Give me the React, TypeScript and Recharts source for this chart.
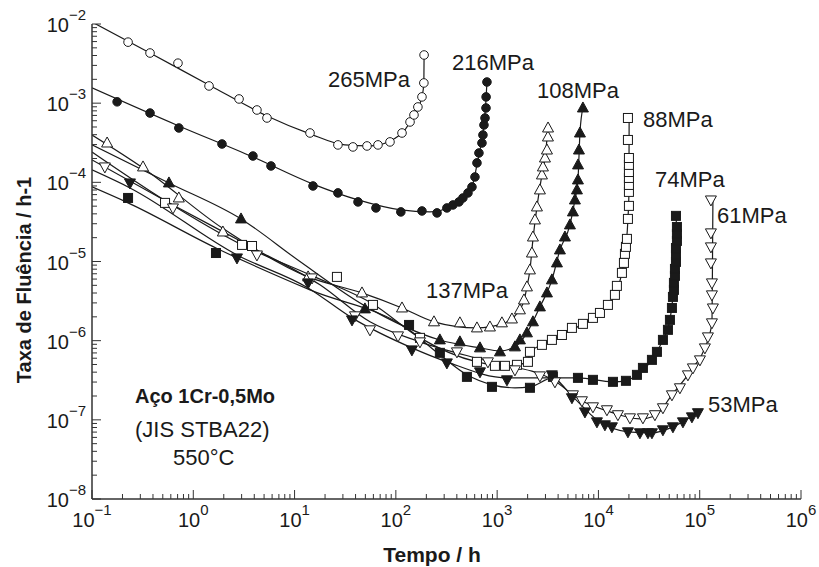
import React from "react";
import { ComposedChart, Line, Scatter, XAxis, YAxis } from "recharts";

const FONT = "'Liberation Sans', Arial, Helvetica, sans-serif";
const INK = "#1a1a1a";
const AXIS = "#333333";

// axis decades and their exponent labels
const xMajor = [0.1, 1, 10, 100, 1e3, 1e4, 1e5, 1e6];
const xExpLabels = ["\u22121", "0", "1", "2", "3", "4", "5", "6"];
const yMajor = [1e-8, 1e-7, 1e-6, 1e-5, 1e-4, 1e-3, 1e-2];
const yExpLabels = ["\u22128", "\u22127", "\u22126", "\u22125", "\u22124", "\u22123", "\u22122"];
const minorSteps = [2, 3, 4, 5, 6, 7, 8, 9];

// 265 MPa - open circles
const t265 = [0.227, 0.374, 0.706, 1.43, 2.83, 4.25, 5.34, 14.2, 26.8, 37.7, 51.9, 66.6, 87.5, 115, 138, 151, 165, 181, 189, 190];
const r265 = [5.9e-3, 4.3e-3, 3.2e-3, 1.65e-3, 1.13e-3, 8.2e-4, 6.5e-4, 4.2e-4, 2.97e-4, 2.8e-4, 2.88e-4, 2.97e-4, 3.24e-4, 4.2e-4, 5.79e-4, 7.1e-4, 8.95e-4, 1.2e-3, 1.8e-3, 4.06e-3];
const fitT265 = [0.1, 0.374, 1.43, 5.34, 14.2, 31.4, 55.5, 87.5, 123, 155, 181, 189, 190];
const fitR265 = [1.06e-2, 4.3e-3, 1.7e-3, 6.9e-4, 4.1e-4, 2.97e-4, 2.88e-4, 3.33e-4, 4.6e-4, 7.5e-4, 1.2e-3, 1.8e-3, 4.06e-3];

// 216 MPa - filled circles
const t216 = [0.177, 0.374, 0.72, 1.92, 3.88, 5.85, 15.2, 26.8, 42.3, 63.6, 112, 181, 255, 319, 366, 420, 459, 515, 564, 604, 632, 661, 708, 724, 741, 759, 776, 778, 793];
const r216 = [1.04e-3, 7.5e-4, 4.86e-4, 3.05e-4, 2.15e-4, 1.61e-4, 9.0e-5, 7.35e-5, 5.66e-5, 4.75e-5, 4.23e-5, 4.35e-5, 4.11e-5, 4.75e-5, 5.18e-5, 5.66e-5, 6.35e-5, 7.35e-5, 8.75e-5, 1.17e-4, 1.76e-4, 2.35e-4, 3.14e-4, 3.97e-4, 5.3e-4, 6.5e-4, 8.7e-4, 1.2e-3, 1.85e-3];
const fitT216 = [0.1, 0.72, 3.88, 15.2, 42.3, 112, 217, 366, 481, 564, 632, 692, 741, 776, 793];
const fitR216 = [1.56e-3, 5.15e-4, 2.09e-4, 9.5e-5, 6.0e-5, 4.48e-5, 4.23e-5, 5.18e-5, 6.73e-5, 8.75e-5, 1.66e-4, 2.96e-4, 5.3e-4, 1.1e-3, 1.85e-3];

// 137 MPa - open triangles
const t137 = [0.141, 0.319, 0.72, 1.96, 13.6, 46.3, 115, 238, 429, 632, 849, 1115, 1400, 1679, 1840, 1969, 2108, 2205, 2257, 2362, 2472, 2645, 2769, 2832, 2966, 3103, 3174, 3180];
const r137 = [3.14e-4, 1.565e-4, 6.35e-5, 2.36e-5, 6.39e-6, 4.01e-6, 2.59e-6, 1.73e-6, 1.68e-6, 1.45e-6, 1.49e-6, 1.68e-6, 1.88e-6, 2.45e-6, 3.27e-6, 4.78e-6, 7.83e-6, 1.28e-5, 2.04e-5, 3.35e-5, 4.89e-5, 8.02e-5, 1.24e-4, 1.565e-4, 2.03e-4, 2.56e-4, 3.74e-4, 4.86e-4];
const fitT137 = [0.1, 0.319, 1.92, 13.6, 46.3, 115, 238, 632, 1115, 1499, 1840, 1969, 2108, 2257, 2472, 2769, 2966, 3180];
const fitR137 = [3.97e-4, 1.52e-4, 2.66e-5, 6.39e-6, 4.01e-6, 2.59e-6, 1.73e-6, 1.45e-6, 1.63e-6, 2.06e-6, 3.2e-6, 4.78e-6, 7.83e-6, 1.9e-5, 4.89e-5, 1.24e-4, 2.03e-4, 4.86e-4];

// 108 MPa - filled triangles
const t108 = [0.575, 2.96, 49.5, 272, 429, 677, 1066, 1499, 1679, 1969, 2257, 2645, 3103, 3474, 3896, 4168, 4671, 5233, 5601, 5861, 6137, 6278, 6290, 6423, 6570, 7031];
const r108 = [9.83e-5, 3.45e-5, 2.52e-6, 1.023e-6, 9.66e-7, 8.11e-7, 7.22e-7, 8.35e-7, 1.023e-6, 1.255e-6, 1.73e-6, 2.67e-6, 4.01e-6, 5.86e-6, 9.6e-6, 1.4e-5, 2.04e-5, 2.9e-5, 4.23e-5, 5.99e-5, 8.02e-5, 1.072e-4, 1.66e-4, 2.56e-4, 4.2e-4, 8.7e-4];
const fitT108 = [0.1, 0.575, 2.96, 11.3, 49.5, 272, 677, 1066, 1499, 1969, 2645, 3474, 4168, 5233, 5861, 6278, 6570, 7031];
const fitR108 = [2.97e-4, 9.83e-5, 3.45e-5, 1.0e-5, 2.75e-6, 1.02e-6, 8.11e-7, 7.43e-7, 8.35e-7, 1.255e-6, 2.67e-6, 5.86e-6, 1.4e-5, 2.9e-5, 5.99e-5, 1.07e-4, 4.2e-4, 8.7e-4];

// 88 MPa - open squares
const t88 = [0.526, 3.03, 3.8, 26.2, 59.4, 173, 632, 951, 1194, 1569, 2014, 2108, 2769, 3474, 4363, 5475, 7031, 8827, 10350, 12410, 14550, 15220, 17060, 17860, 18270, 18690, 19120, 19560, 20010, 20010, 20010, 20010, 20010, 20010, 20010, 19560, 19560];
const r88 = [5.5e-5, 1.62e-5, 1.57e-5, 6.39e-6, 2.83e-6, 1.085e-6, 5.4e-7, 4.81e-7, 4.81e-7, 4.95e-7, 5.4e-7, 7.22e-7, 8.85e-7, 1.023e-6, 1.18e-6, 1.45e-6, 1.63e-6, 1.94e-6, 2.24e-6, 2.83e-6, 3.79e-6, 4.92e-6, 7.18e-6, 9.6e-6, 1.25e-5, 1.53e-5, 1.93e-5, 3.45e-5, 5.04e-5, 7.57e-5, 9.27e-5, 1.136e-4, 1.35e-4, 1.66e-4, 2.03e-4, 3.43e-4, 6.5e-4];
const fitT88 = [0.1, 0.526, 3.03, 14.2, 59.4, 173, 632, 1194, 1569, 2014, 2108, 2769, 4363, 7031, 10350, 14550, 17060, 18690, 19560, 20010, 20050, 20100];
const fitR88 = [2.42e-4, 5.9e-5, 1.62e-5, 6.77e-6, 2.91e-6, 1.085e-6, 5.4e-7, 4.81e-7, 4.95e-7, 5.4e-7, 7.22e-7, 8.85e-7, 1.18e-6, 1.63e-6, 2.24e-6, 3.79e-6, 7.18e-6, 1.53e-5, 3.45e-5, 7.57e-5, 2.03e-4, 6.5e-4];

// 74 MPa - filled squares
const t74 = [0.227, 1.675, 135, 272, 503, 889, 2108, 3554, 6278, 8827, 13910, 18690, 24000, 27500, 33750, 37810, 43330, 48560, 50810, 53180, 54400, 55650, 55650, 56940, 56940, 58270, 58270, 58270, 59580, 59580, 59580, 58270];
const r74 = [6.35e-5, 1.28e-5, 1.58e-6, 7.02e-7, 3.49e-7, 2.61e-7, 2.54e-7, 3.49e-7, 3.39e-7, 3.2e-7, 3.02e-7, 3.11e-7, 3.7e-7, 4.53e-7, 5.72e-7, 7.22e-7, 1.023e-6, 1.37e-6, 1.83e-6, 2.59e-6, 3.57e-6, 4.38e-6, 5.37e-6, 6.58e-6, 8.06e-6, 9.88e-6, 1.21e-5, 1.48e-5, 1.82e-5, 2.23e-5, 2.73e-5, 3.77e-5];
const fitT74 = [0.1, 0.227, 1.675, 14.2, 135, 272, 503, 889, 1499, 2108, 3554, 6278, 13910, 18690, 24000, 33750, 43330, 50810, 54400, 56940, 58270, 58800];
const fitR74 = [8.75e-5, 5.5e-5, 1.48e-5, 4.38e-6, 1.37e-6, 6.62e-7, 3.7e-7, 2.77e-7, 2.54e-7, 2.61e-7, 3.39e-7, 3.39e-7, 3.02e-7, 3.11e-7, 3.7e-7, 5.72e-7, 1.023e-6, 1.83e-6, 3.57e-6, 8.06e-6, 1.48e-5, 3.77e-5];

// 61 MPa - open inverted triangles
const t61 = [0.134, 0.63, 4.25, 14.9, 39.5, 55.5, 105, 173, 401, 811, 1499, 2645, 3721, 5601, 6874, 8827, 12130, 15580, 20480, 27500, 36130, 43330, 53180, 63760, 76480, 85680, 100500, 112500, 120500, 132000, 135000, 132000, 132000, 129000, 129000, 129000, 129000];
const r61 = [1.565e-4, 4.75e-5, 1.21e-5, 6.21e-6, 2.06e-6, 1.37e-6, 1.15e-6, 9.66e-7, 7.22e-7, 5.4e-7, 4.28e-7, 3.59e-7, 3.02e-7, 2.07e-7, 1.74e-7, 1.46e-7, 1.34e-7, 1.16e-7, 1.06e-7, 1.06e-7, 1.16e-7, 1.42e-7, 2.07e-7, 2.54e-7, 3.7e-7, 4.53e-7, 5.72e-7, 8.11e-7, 1.117e-6, 1.68e-6, 2.59e-6, 3.79e-6, 5.37e-6, 9.6e-6, 1.53e-5, 2.3e-5, 5.99e-5];
const fitT61 = [0.1, 0.63, 4.25, 17.8, 55.5, 173, 849, 3554, 6570, 12990, 25690, 36130, 53180, 85680, 112500, 132000, 133000, 134000, 135000];
const fitR61 = [1.92e-4, 5.18e-5, 1.4e-5, 5.07e-6, 1.73e-6, 9.66e-7, 5.4e-7, 3.2e-7, 1.79e-7, 1.26e-7, 1.03e-7, 1.12e-7, 2.07e-7, 4.53e-7, 8.11e-7, 1.68e-6, 3.8e-6, 1.5e-5, 5.99e-5];

// 53 MPa - filled inverted triangles
const t53 = [0.237, 2.7, 13.6, 36.9, 144, 319, 677, 1250, 3474, 5475, 7361, 9666, 11590, 13590, 19560, 25690, 30820, 33750, 43330, 54400, 68300, 83750, 96000];
const r53 = [9.83e-5, 1.11e-5, 5.37e-6, 1.83e-6, 7.65e-7, 5.24e-7, 4.04e-7, 3.2e-7, 3.7e-7, 1.9e-7, 1.26e-7, 9.43e-8, 8.65e-8, 8.16e-8, 7.06e-8, 6.86e-8, 6.86e-8, 6.86e-8, 7.48e-8, 8.16e-8, 9.43e-8, 1.09e-7, 1.23e-7];
const fitT53 = [0.1, 0.237, 2.7, 13.6, 36.9, 144, 319, 1250, 3474, 5475, 9666, 19560, 33750, 54400, 96000];
const fitR53 = [1.435e-4, 8.5e-5, 1.21e-5, 4.64e-6, 1.94e-6, 8.11e-7, 5.4e-7, 3.39e-7, 3.39e-7, 2.01e-7, 1.0e-7, 7.06e-8, 6.86e-8, 8.16e-8, 1.26e-7];

type Kind = "circle" | "up" | "down" | "square";

const toPoints = (ts: number[], rs: number[]) => ts.map((t, i) => ({ t, r: rs[i] }));

const series: { id: string; t: number[]; r: number[]; ft: number[]; fr: number[]; kind: Kind; filled: boolean }[] = [
  { id: "s265", t: t265, r: r265, ft: fitT265, fr: fitR265, kind: "circle", filled: false },
  { id: "s216", t: t216, r: r216, ft: fitT216, fr: fitR216, kind: "circle", filled: true },
  { id: "s137", t: t137, r: r137, ft: fitT137, fr: fitR137, kind: "up", filled: false },
  { id: "s108", t: t108, r: r108, ft: fitT108, fr: fitR108, kind: "up", filled: true },
  { id: "s88", t: t88, r: r88, ft: fitT88, fr: fitR88, kind: "square", filled: false },
  { id: "s74", t: t74, r: r74, ft: fitT74, fr: fitR74, kind: "square", filled: true },
  { id: "s61", t: t61, r: r61, ft: fitT61, fr: fitR61, kind: "down", filled: false },
  { id: "s53", t: t53, r: r53, ft: fitT53, fr: fitR53, kind: "down", filled: true },
];

function withMinors(major: number[]) {
  const out: number[] = [];
  major.forEach((d, i) => {
    out.push(d);
    if (i < major.length - 1) minorSteps.forEach((m) => out.push(d * m));
  });
  return out;
}
const xTicks = withMinors(xMajor);
const yTicks = withMinors(yMajor);

const MAJOR_LEN = 9;
const MINOR_LEN = 5;

function BottomTick({ x, y, payload }: any) {
  const i = xMajor.indexOf(payload.value);
  const len = i >= 0 ? MAJOR_LEN : MINOR_LEN;
  return (
    <g>
      <line x1={x} y1={y} x2={x} y2={y - len} stroke={AXIS} strokeWidth={1} />
      {i >= 0 && (
        <text x={x} y={y + 28} textAnchor="middle" fontFamily={FONT} fontSize={20} fill={INK}>
          10<tspan dy={-12} fontSize={15}>{xExpLabels[i]}</tspan>
        </text>
      )}
    </g>
  );
}

function TopTick({ x, y, payload }: any) {
  const len = xMajor.indexOf(payload.value) >= 0 ? MAJOR_LEN : MINOR_LEN;
  return <line x1={x} y1={y} x2={x} y2={y + len} stroke={AXIS} strokeWidth={1} />;
}

function LeftTick({ x, y, payload }: any) {
  const i = yMajor.indexOf(payload.value);
  const len = i >= 0 ? MAJOR_LEN : MINOR_LEN;
  return (
    <g>
      <line x1={x} y1={y} x2={x + len} y2={y} stroke={AXIS} strokeWidth={1} />
      {i >= 0 && (
        <text x={x - 6} y={y + 8} textAnchor="end" fontFamily={FONT} fontSize={20} fill={INK}>
          10<tspan dy={-12} fontSize={15}>{yExpLabels[i]}</tspan>
        </text>
      )}
    </g>
  );
}

function RightTick({ x, y, payload }: any) {
  const len = yMajor.indexOf(payload.value) >= 0 ? MAJOR_LEN : MINOR_LEN;
  return <line x1={x} y1={y} x2={x - len} y2={y} stroke={AXIS} strokeWidth={1} />;
}

function markerShape(kind: Kind, filled: boolean) {
  return (p: any) => {
    const { cx, cy } = p;
    if (cx == null || cy == null) return <g />;
    const style = { fill: filled ? INK : "#ffffff", stroke: INK, strokeWidth: 1 };
    if (kind === "circle") return <circle cx={cx} cy={cy} r={4.3} {...style} />;
    if (kind === "square") return <rect x={cx - 4.5} y={cy - 4.5} width={9} height={9} {...style} />;
    if (kind === "up")
      return <polygon points={`${cx},${cy - 6} ${cx - 5.5},${cy + 4} ${cx + 5.5},${cy + 4}`} {...style} />;
    return <polygon points={`${cx - 5.5},${cy - 4} ${cx + 5.5},${cy - 4} ${cx},${cy + 6}`} {...style} />;
  };
}

const stressLabels = [
  { text: "265MPa", x: 328, y: 87 },
  { text: "216MPa", x: 452, y: 70 },
  { text: "108MPa", x: 537, y: 98 },
  { text: "88MPa", x: 643, y: 127 },
  { text: "74MPa", x: 655, y: 187 },
  { text: "61MPa", x: 717, y: 223 },
  { text: "137MPa", x: 426, y: 298 },
  { text: "53MPa", x: 708, y: 412 },
];

export default function App() {
  return (
    <div style={{ position: "absolute", left: 0, top: 0, width: 819, height: 567, background: "#fff" }}>
      <ComposedChart width={819} height={567} margin={{ top: 24, right: 18, bottom: 0, left: 0 }}>
        <XAxis
          xAxisId={0}
          dataKey="t"
          type="number"
          scale="log"
          domain={[0.1, 1e6]}
          allowDataOverflow
          ticks={xTicks}
          interval={0}
          height={68}
          tickSize={0}
          tickMargin={0}
          tickLine={false}
          axisLine={{ stroke: AXIS, strokeWidth: 1.5 }}
          tick={(p: any) => <BottomTick {...p} />}
        />
        <XAxis
          xAxisId="top"
          orientation="top"
          type="number"
          scale="log"
          domain={[0.1, 1e6]}
          allowDataOverflow
          ticks={xTicks}
          interval={0}
          height={0}
          tickSize={0}
          tickMargin={0}
          tickLine={false}
          axisLine={{ stroke: AXIS, strokeWidth: 1.5 }}
          tick={(p: any) => <TopTick {...p} />}
        />
        <YAxis
          yAxisId={0}
          dataKey="r"
          type="number"
          scale="log"
          domain={[1e-8, 1e-2]}
          allowDataOverflow
          ticks={yTicks}
          interval={0}
          width={92}
          tickSize={0}
          tickMargin={0}
          tickLine={false}
          axisLine={{ stroke: AXIS, strokeWidth: 1.5 }}
          tick={(p: any) => <LeftTick {...p} />}
        />
        <YAxis
          yAxisId="right"
          orientation="right"
          type="number"
          scale="log"
          domain={[1e-8, 1e-2]}
          allowDataOverflow
          ticks={yTicks}
          interval={0}
          width={0}
          tickSize={0}
          tickMargin={0}
          tickLine={false}
          axisLine={{ stroke: AXIS, strokeWidth: 1.5 }}
          tick={(p: any) => <RightTick {...p} />}
        />
        {series.map((s) => (
          <Line
            key={`fit-${s.id}`}
            xAxisId={0}
            yAxisId={0}
            data={toPoints(s.ft, s.fr)}
            dataKey="r"
            type="monotone"
            stroke={INK}
            strokeWidth={1.2}
            dot={false}
            activeDot={false}
            isAnimationActive={false}
          />
        ))}
        {series.map((s) => (
          <Scatter
            key={`pts-${s.id}`}
            xAxisId={0}
            yAxisId={0}
            data={toPoints(s.t, s.r)}
            shape={markerShape(s.kind, s.filled)}
            isAnimationActive={false}
          />
        ))}
      </ComposedChart>
      <svg
        width={819}
        height={567}
        style={{ position: "absolute", left: 0, top: 0, pointerEvents: "none" }}
        fontFamily={FONT}
      >
        {stressLabels.map((l) => (
          <text key={l.text} x={l.x} y={l.y} fontSize={22} fill={INK}>
            {l.text}
          </text>
        ))}
        <text x={135} y={403} fontSize={20} fontWeight="bold" fill={INK}>
          Aço 1Cr-0,5Mo
        </text>
        <text x={135} y={437} fontSize={22} fill={INK}>
          (JIS STBA22)
        </text>
        <text x={173} y={465} fontSize={22} fill={INK}>
          550°C
        </text>
        <text x={432} y={562} fontSize={21} fontWeight="bold" fill={INK} textAnchor="middle">
          Tempo / h
        </text>
        <text
          x={31}
          y={280}
          fontSize={20}
          fontWeight="bold"
          fill={INK}
          textAnchor="middle"
          transform="rotate(-90 31 280)"
        >
          Taxa de Fluência / h-1
        </text>
      </svg>
    </div>
  );
}
